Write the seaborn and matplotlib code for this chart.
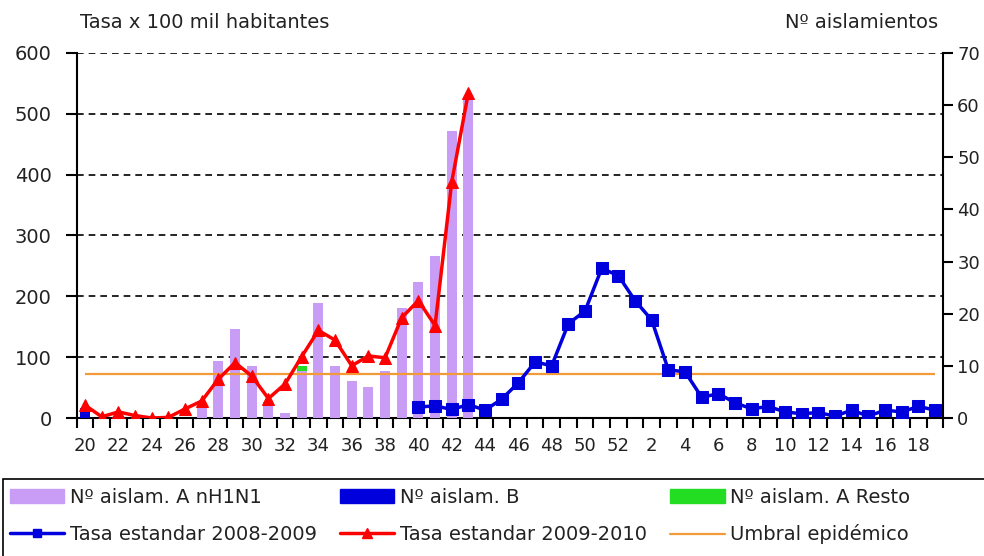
import matplotlib
matplotlib.use("Agg")
import matplotlib.pyplot as plt
from matplotlib.patches import Patch, Rectangle
from matplotlib.lines import Line2D
import numpy as np
import pandas as pd
import seaborn as sns

# semanas epidemiologicas (temporada 20 -> 19)
weeks = list(range(20, 53)) + list(range(1, 20))
week_labels = [str(w) if i % 2 == 0 else "" for i, w in enumerate(weeks)]

# Nº aislamientos (eje derecho), semanas 20..43
weeks_ah1n1 = list(range(20, 44))
aislam_ah1n1 = [0, 0, 0, 0, 0, 0, 0, 2, 11, 17, 10, 3, 1, 9, 22, 10, 7, 6, 9, 21, 26, 31, 55, 61]
weeks_b = [20]
aislam_b = [2]
weeks_resto = [33]
aislam_resto = [1]

# tasas (eje izquierdo)
weeks_0910 = list(range(20, 44))
tasa_0910 = [21, 2, 10, 4, 0, 1, 15, 28, 64, 91, 69, 32, 56, 101, 144, 128, 86, 102, 99, 165, 193, 152, 388, 535]
weeks_0809 = list(range(40, 53)) + list(range(1, 20))
tasa_0809 = [18, 20, 14, 22, 13, 31, 58, 92, 86, 155, 176, 246, 234,
             193, 161, 79, 76, 34, 40, 25, 15, 19, 10, 7, 9, 3, 13, 3, 13, 10, 19, 13]
umbral = 72

pos = {w: i for i, w in enumerate(weeks)}

sns.set_theme(style="white")
plt.rcParams["font.family"] = ["DejaVu Sans"]

c_purple = "#c99cf5"
c_blue = "#0000dd"
c_green = "#22dd22"
c_red = "#ff0000"
c_orange = "#f29a38"
c_text = "#222222"

fig = plt.figure(figsize=(9.84, 5.56), dpi=100)
fig.patch.set_facecolor("white")
ax = fig.add_axes([0.078, 0.2482, 0.8807, 0.6565])   # grid + left axis
ax2 = ax.twinx()                                      # bars, right axis
ax3 = ax.twinx()                                      # lines, left scale

# bars
df_a = pd.DataFrame({"x": [pos[w] for w in weeks_ah1n1], "v": aislam_ah1n1})
sns.barplot(data=df_a, x="x", y="v", native_scale=True, color=c_purple,
            width=0.6, saturation=1, ax=ax2, edgecolor="none")
df_b = pd.DataFrame({"x": [pos[w] for w in weeks_b], "v": aislam_b})
sns.barplot(data=df_b, x="x", y="v", native_scale=True, color=c_blue,
            width=0.6, saturation=1, ax=ax2, edgecolor="none")
bottom_resto = [aislam_ah1n1[weeks_ah1n1.index(w)] for w in weeks_resto]
ax2.bar([pos[w] for w in weeks_resto], aislam_resto, bottom=bottom_resto,
        width=0.6, color=c_green, linewidth=0)

# lines
ax3.hlines(umbral, pos[weeks[0]], pos[weeks[-1]], color=c_orange, lw=1.6)
sns.lineplot(x=[pos[w] for w in weeks_0809], y=tasa_0809, ax=ax3, color=c_blue,
             lw=2.5, marker="s", markersize=8, markeredgecolor=c_blue)
sns.lineplot(x=[pos[w] for w in weeks_0910], y=tasa_0910, ax=ax3, color=c_red,
             lw=2.5, marker="^", markersize=9, markeredgecolor=c_red)

# axes limits
for a in (ax, ax3):
    a.set_ylim(0, 600)
ax2.set_ylim(0, 70)
for a in (ax, ax2, ax3):
    a.set_xlim(-0.5, len(weeks) - 0.5)

ax.set_yticks(range(0, 601, 100))
ax.yaxis.grid(True, color="black", linestyle=(0, (4, 3)), lw=1.2)
ax.xaxis.grid(False)
ax.tick_params(axis="y", labelsize=14, length=8, width=1.5, direction="out",
               pad=10, left=True, color="black", labelcolor=c_text)
ax.set_xticks(range(0, len(weeks), 2))
ax.set_xticklabels(week_labels[::2])
ax.set_xticks(np.arange(-0.5, len(weeks), 1), minor=True)
ax.tick_params(axis="x", which="major", length=0, labelsize=13, pad=14,
               labelcolor=c_text)
ax.tick_params(axis="x", which="minor", length=7, width=1.5, direction="out",
               bottom=True, color="black")

ax2.set_yticks(range(0, 71, 10))
ax2.tick_params(axis="y", labelsize=13, length=7, width=1.5, direction="out",
                pad=3, right=True, color="black", labelcolor=c_text)
ax2.set_ylabel("")
ax2.set_xlabel("")

ax3.set_axis_off()
ax.set_xlabel("")
ax.set_ylabel("")

for a in (ax, ax2):
    a.spines["top"].set_visible(False)
    for s in ("left", "right", "bottom"):
        a.spines[s].set_color("black")
        a.spines[s].set_linewidth(1.5)
ax.spines["right"].set_visible(False)
ax2.spines["left"].set_visible(False)
ax2.spines["bottom"].set_visible(False)

fig.text(80 / 984, 1 - 22 / 556, "Tasa x 100 mil habitantes", fontsize=14,
         va="center", ha="left", color=c_text)
fig.text(938 / 984, 1 - 22 / 556, "Nº aislamientos", fontsize=14,
         va="center", ha="right", color=c_text)

# legend
handles = [
    Patch(color=c_purple),
    Line2D([], [], color=c_blue, lw=2.5, marker="s", markersize=6),
    Patch(color=c_blue),
    Line2D([], [], color=c_red, lw=2.5, marker="^", markersize=7),
    Patch(color=c_green),
    Line2D([], [], color=c_orange, lw=1.6),
]
labels = ["Nº aislam. A nH1N1", "Tasa estandar 2008-2009", "Nº aislam. B",
          "Tasa estandar 2009-2010", "Nº aislam. A Resto", "Umbral epidémico"]
leg = fig.legend(handles, labels, ncol=3, loc="upper left",
                 bbox_to_anchor=(10 / 984, 1 - 488 / 556), frameon=False, fontsize=14,
                 handlelength=2.8, handleheight=0.7, handletextpad=0.3,
                 columnspacing=1.17, labelspacing=0.9, borderpad=0, borderaxespad=0)
for t in leg.get_texts():
    t.set_color(c_text)
fig.add_artist(Rectangle((3 / 984, -0.1), 1.0, 0.1 + (1 - 479 / 556),
                         transform=fig.transFigure, fill=False,
                         edgecolor="black", lw=1.2))

fig.savefig("out.png", dpi=100)
